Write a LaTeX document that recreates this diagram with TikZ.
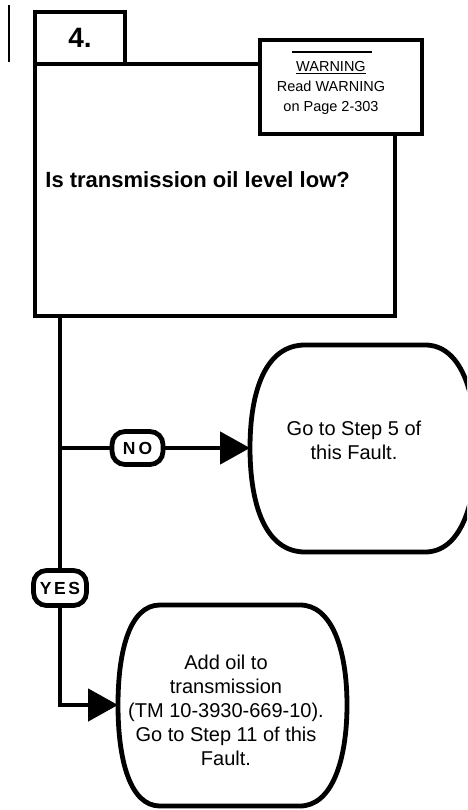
\documentclass[tikz,border=0pt]{standalone}
\usepackage{fontspec}
\setmainfont{Liberation Sans}
\usetikzlibrary{arrows.meta}

\begin{document}
\begin{tikzpicture}[x=1pt, y=-1pt, line width=4.8pt,
    box/.style = {draw, rectangle, inner sep=0pt},
    pill/.style = {draw, rounded corners=13pt, inner sep=0pt, minimum width=53pt, minimum height=35pt, font=\fontsize{17.5}{17.5}\selectfont\bfseries},
    body/.style = {align=center, inner sep=0pt, font=\fontsize{20}{24}\selectfont},
    tip/.style = {-{Triangle[length=30pt, width=32pt]}}]%
    \path[use as bounding box, fill=white] (0, 0) rectangle (467, 810);
    \clip (0, 0) rectangle (467, 810);
    \draw[line width=1.5pt] (9, 5) -- (9, 62);
    \node[box, minimum width=360pt, minimum height=252pt] (qbox) at (215, 190) {};
    \node[box, minimum width=90pt, minimum height=52pt, font=\fontsize{28}{28}\selectfont\bfseries] (stepno) at (80, 38) {4.};
    \node[box, fill=white, minimum width=162pt, minimum height=94pt] (warn) at (341, 87) {};
    \node[align=center, inner sep=0pt, font=\fontsize{14.5}{20}\selectfont] (warntext) at (331, 88) {\underline{WARNING}\\Read WARNING\\on Page 2-303};
    \draw[line width=1.5pt] (292, 52) -- (372, 52);
    \node[anchor=base west, inner sep=0pt, font=\fontsize{22}{22}\selectfont\bfseries] (q) at (43, 188) {Is transmission oil level low?};
    \node[pill] (yes) at (60, 588) {Y\kern2.5pt E\kern2.5pt S};
    \node[pill, minimum width=51pt, minimum height=33pt] (no) at (137.5, 448) {N\kern3pt O};
    \coordinate (step5w) at (250, 448);
    \coordinate (oilw) at (118, 705);
    \draw (qbox.south -| yes.north) -- (yes.north);
    \draw (no.west -| yes.north) -- (no.west);
    \draw[tip] (no.east) -- (step5w);
    \draw[tip] (yes.south) |- (oilw);
    \draw (step5w) .. controls (250, 390) and (266, 345) .. (305, 345) -- (425, 345)
        .. controls (460, 345) and (476, 390) .. (476, 448) .. controls (476, 506) and (460, 552) .. (425, 552)
        -- (305, 552) .. controls (266, 552) and (250, 506) .. cycle;
    \node[body] (step5) at (354, 440) {Go to Step 5 of\\this Fault.};
    \draw (oilw) .. controls (118, 650) and (130, 605) .. (160, 605) -- (300, 605)
        .. controls (332, 605) and (347, 650) .. (347, 705) .. controls (347, 760) and (332, 806) .. (300, 806)
        -- (160, 806) .. controls (130, 806) and (118, 760) .. cycle;
    \node[body] (addoil) at (226, 710) {Add oil to\\transmission\\(TM 10-3930-669-10).\\Go to Step 11 of this\\Fault.};
\end{tikzpicture}
\end{document}
